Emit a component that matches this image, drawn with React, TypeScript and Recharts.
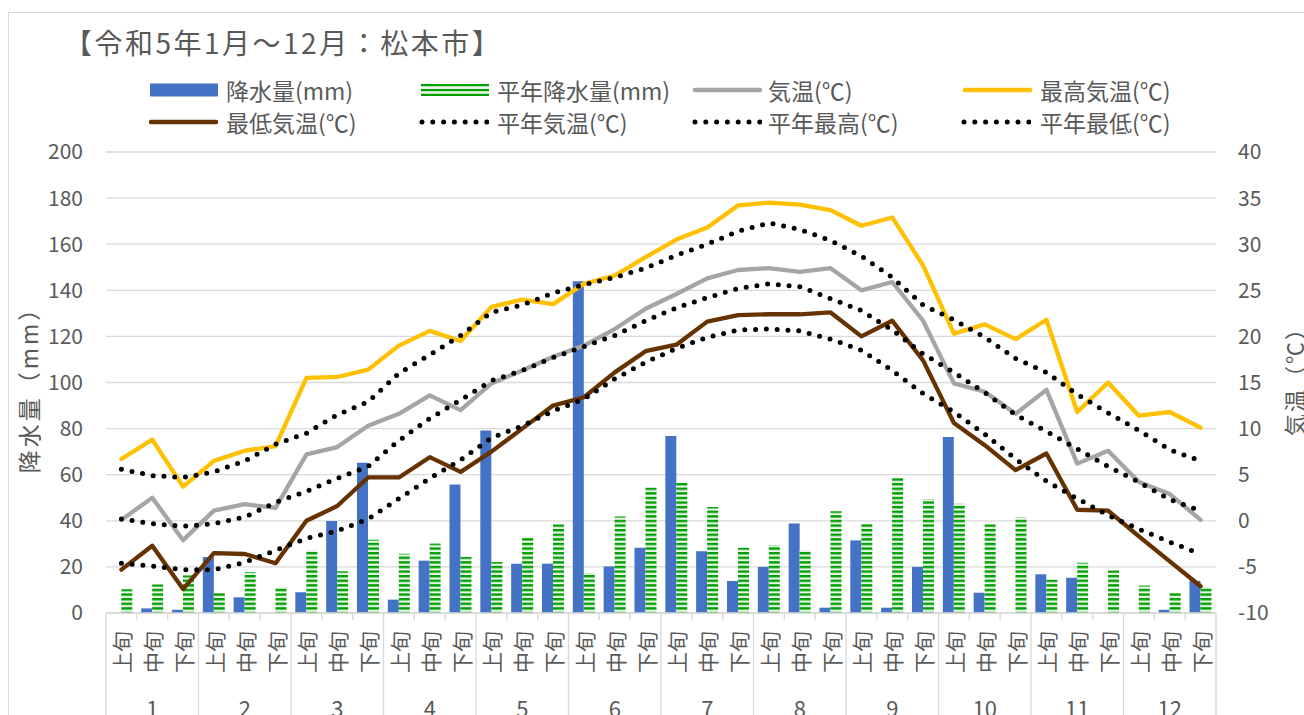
import React from 'react';
import { ComposedChart, Bar, Line, XAxis, YAxis, CartesianGrid } from 'recharts';

// 松本市 令和5年 旬別データ
const months = ['1', '2', '3', '4', '5', '6', '7', '8', '9', '10', '11', '12'];
const dekadNames = ['上旬', '中旬', '下旬'];

const rain = [0, 2, 1.4, 24.3, 6.8, 0, 9, 39.9, 65.2, 5.8, 22.7, 55.8,
  79.2, 21.4, 21.4, 143.9, 20.2, 28.3, 76.8, 26.8, 13.9, 20, 38.8, 2.3,
  31.5, 2.3, 20, 76.4, 8.8, 0, 16.8, 15.3, 0, 0, 1.4, 13.9];
const normalRain = [10.3, 12.4, 16.3, 8.8, 17.8, 11.3, 27.2, 18.1, 31.8, 25.7, 30.1, 24.3,
  22.1, 32.7, 38.5, 17.4, 41.9, 54.4, 56.5, 46, 28.3, 29.4, 27.2, 44.1,
  38.8, 58.7, 49.3, 47.4, 38.5, 41.4, 14.5, 21.8, 18.5, 11.9, 8.8, 11.3];
const temp = [0.1, 2.5, -2.1, 1.1, 1.8, 1.4, 7.2, 8, 10.3, 11.6, 13.6, 12,
  14.9, 16.3, 17.8, 19, 20.8, 23, 24.6, 26.3, 27.2, 27.4, 27, 27.4,
  25, 25.9, 21.7, 14.9, 14, 11.6, 14.2, 6.2, 7.6, 4.2, 2.9, 0.1];
const maxTemp = [6.7, 8.8, 3.7, 6.5, 7.6, 8.1, 15.5, 15.6, 16.4, 19, 20.6, 19.5,
  23.2, 24, 23.5, 25.7, 26.6, 28.6, 30.5, 31.8, 34.2, 34.5, 34.3, 33.7,
  32, 32.9, 27.7, 20.3, 21.3, 19.7, 21.8, 11.8, 15, 11.4, 11.8, 10.1];
const minTemp = [-5.3, -2.7, -7.4, -3.5, -3.6, -4.6, 0, 1.6, 4.7, 4.7, 6.9, 5.3,
  7.5, 10, 12.5, 13.4, 16.1, 18.4, 19.1, 21.6, 22.3, 22.4, 22.4, 22.6,
  20, 21.7, 17.4, 10.6, 8.2, 5.5, 7.3, 1.2, 1.1, -1.7, -4.4, -7.1];
const normalTemp = [0.2, -0.3, -0.6, -0.3, 0.4, 2, 3.2, 4.6, 5.9, 8.7, 11.1, 13.1,
  15.2, 16.3, 17.7, 18.9, 20.1, 21.7, 23.1, 24.2, 25.2, 25.7, 25.4, 24.1,
  22.8, 20.7, 18.1, 16.1, 13.9, 11.5, 9.7, 7.8, 5.9, 4.2, 2.3, 1.1];
const normalMax = [5.6, 4.9, 4.7, 5.3, 6.5, 8.3, 9.5, 11.5, 12.9, 16, 18, 20.1,
  22.6, 23.4, 24.7, 25.6, 26.4, 27.4, 28.8, 30, 31.4, 32.3, 31.6, 30.4,
  28.7, 26.4, 23.4, 21.8, 19.9, 17.6, 16.1, 13.7, 11.7, 9.8, 7.7, 6.5];
const normalMin = [-4.6, -4.9, -5.3, -5.3, -4.5, -3.2, -1.9, -1.1, 0.2, 2.4, 4.6, 6.6,
  9, 10.3, 11.9, 13.2, 15.4, 17.2, 18.7, 19.9, 20.7, 20.8, 20.6, 19.7,
  18.5, 16.3, 13.8, 11.8, 9.4, 6.7, 4.3, 2.4, 0.6, -0.9, -2.3, -3.6];

const rainTicks = [0, 20, 40, 60, 80, 100, 120, 140, 160, 180, 200];
const tempTicks = [-10, -5, 0, 5, 10, 15, 20, 25, 30, 35, 40];

const data = months.flatMap((m, mi) =>
  dekadNames.map((d, di) => {
    const i = mi * 3 + di;
    return {
      key: `${m}-${d}`,
      rain: rain[i],
      normalRain: normalRain[i],
      temp: temp[i],
      maxTemp: maxTemp[i],
      minTemp: minTemp[i],
      normalTemp: normalTemp[i],
      normalMax: normalMax[i],
      normalMin: normalMin[i],
    };
  })
);

const W = 1304;
const H = 715;
const LEFT_W = 106;
const RIGHT_W = 88;
const BAND = (W - LEFT_W - RIGHT_W) / data.length;
const TEXT = '#595959';
const GRID = '#d9d9d9';
const FONT = "'Noto Sans CJK JP', 'Noto Sans', sans-serif";

const DekadTick = (props: any) => {
  const { x, y, payload } = props;
  const [m, d] = String(payload.value).split('-');
  const di = dekadNames.indexOf(d);
  const last = payload.value === data[data.length - 1].key;
  const left = x - BAND / 2;
  return (
    <g>
      <line x1={left} x2={left} y1={y} y2={di === 0 ? y + 110 : y + 7} stroke={GRID} strokeWidth={1.3} />
      {last && <line x1={x + BAND / 2} x2={x + BAND / 2} y1={y} y2={y + 110} stroke={GRID} strokeWidth={1.3} />}
      <text
        transform={`translate(${x},${y + 39}) rotate(-90)`}
        textAnchor="middle"
        dominantBaseline="central"
        fontSize={21}
        fill={TEXT}
        fontFamily={FONT}
      >
        {d}
      </text>
      {di === 1 && (
        <text x={x} y={y + 94} textAnchor="middle" dominantBaseline="central" fontSize={22} fill={TEXT} fontFamily={FONT}>
          {m}
        </text>
      )}
    </g>
  );
};

type LegendItem = { name: string; kind: 'rect' | 'stripe' | 'line' | 'dot'; color: string; sx: number; tx: number; cy: number };

const legendItems: LegendItem[] = [
  { name: '降水量(mm)', kind: 'rect', color: '#4472C4', sx: 150, tx: 226, cy: 90 },
  { name: '平年降水量(mm)', kind: 'stripe', color: '#00A000', sx: 421, tx: 497, cy: 90 },
  { name: '気温(℃)', kind: 'line', color: '#A5A5A5', sx: 692, tx: 768, cy: 90 },
  { name: '最高気温(℃)', kind: 'line', color: '#FFC000', sx: 962, tx: 1040, cy: 90 },
  { name: '最低気温(℃)', kind: 'line', color: '#663300', sx: 148, tx: 226, cy: 122 },
  { name: '平年気温(℃)', kind: 'dot', color: '#000000', sx: 419, tx: 497, cy: 122 },
  { name: '平年最高(℃)', kind: 'dot', color: '#000000', sx: 692, tx: 768, cy: 122 },
  { name: '平年最低(℃)', kind: 'dot', color: '#000000', sx: 961, tx: 1040, cy: 122 },
];

const Swatch = ({ item }: { item: LegendItem }) => {
  const w = 70;
  return (
    <svg width={w} height={16} style={{ position: 'absolute', left: item.sx, top: item.cy - 8 }}>
      {item.kind === 'rect' && <rect x={0} y={1.5} width={68} height={13} fill={item.color} />}
      {item.kind === 'stripe' && (
        <g>
          <rect x={0} y={2} width={68} height={12} fill="#e8f5e8" />
          <rect x={0} y={2} width={68} height={2.2} fill={item.color} />
          <rect x={0} y={7} width={68} height={2.2} fill={item.color} />
          <rect x={0} y={11.8} width={68} height={2.2} fill={item.color} />
        </g>
      )}
      {item.kind === 'line' && (
        <line x1={3} x2={68} y1={8} y2={8} stroke={item.color} strokeWidth={4.5} strokeLinecap="round" />
      )}
      {item.kind === 'dot' && (
        <line x1={3} x2={68} y1={8} y2={8} stroke={item.color} strokeWidth={5} strokeLinecap="round" strokeDasharray="0 10.8" />
      )}
    </svg>
  );
};

const solid = (key: string, color: string) => (
  <Line
    yAxisId="right"
    type="linear"
    dataKey={key}
    stroke={color}
    strokeWidth={4.3}
    strokeLinejoin="round"
    strokeLinecap="round"
    dot={false}
    activeDot={false}
    isAnimationActive={false}
  />
);

const dotted = (key: string) => (
  <Line
    yAxisId="right"
    type="linear"
    dataKey={key}
    stroke="#000000"
    strokeWidth={5}
    strokeLinecap="round"
    strokeDasharray="0 10.8"
    dot={false}
    activeDot={false}
    isAnimationActive={false}
  />
);

export default function App() {
  return (
    <div style={{ position: 'fixed', left: 0, top: 0, width: W, height: H, overflow: 'hidden', background: '#fff', fontFamily: FONT }}>
      <div style={{ position: 'absolute', left: 8, top: 12, width: 1400, height: 900, border: `1px solid ${GRID}` }} />
      <div style={{ position: 'absolute', left: 64, top: 22, fontSize: 28, letterSpacing: 2.5, lineHeight: '40px', color: TEXT, whiteSpace: 'nowrap' }}>
        【令和5年1月～12月：松本市】
      </div>
      {legendItems.map((item) => (
        <React.Fragment key={item.name}>
          <Swatch item={item} />
          <div style={{ position: 'absolute', left: item.tx, top: item.cy - 16, height: 32, lineHeight: '32px', fontSize: 23, color: TEXT, whiteSpace: 'nowrap' }}>
            {item.name}
          </div>
        </React.Fragment>
      ))}
      <div style={{ position: 'absolute', left: 28, top: 384, width: 0, height: 0 }}>
        <div style={{ position: 'absolute', transform: 'translate(-50%, -50%) rotate(-90deg)', fontSize: 23, letterSpacing: 3, color: TEXT, whiteSpace: 'nowrap' }}>
          降水量（mm）
        </div>
      </div>
      <div style={{ position: 'absolute', left: 1293, top: 376, width: 0, height: 0 }}>
        <div style={{ position: 'absolute', transform: 'translate(-50%, -50%) rotate(-90deg)', fontSize: 22, letterSpacing: 2, color: TEXT, whiteSpace: 'nowrap' }}>
          気温（℃）
        </div>
      </div>
      <div style={{ position: 'absolute', left: 0, top: 0 }}>
        <ComposedChart
          width={W}
          height={H}
          data={data}
          margin={{ top: 152, right: 0, bottom: 0, left: 0 }}
          barCategoryGap="14%"
          barGap={0}
        >
          <defs>
            <pattern id="hstripe" patternUnits="userSpaceOnUse" width={8} height={4.6}>
              <rect width={8} height={4.6} fill="#e8f5e8" />
              <rect width={8} height={2.4} fill="#00A000" />
            </pattern>
          </defs>
          <CartesianGrid yAxisId="left" vertical={false} stroke={GRID} strokeWidth={1.3} />
          <XAxis
            dataKey="key"
            height={102}
            interval={0}
            tickSize={0}
            tickMargin={0}
            tickLine={false}
            axisLine={{ stroke: GRID, strokeWidth: 1.3 }}
            tick={<DekadTick />}
          />
          <YAxis
            yAxisId="left"
            orientation="left"
            width={LEFT_W}
            domain={[0, 200]}
            ticks={rainTicks}
            axisLine={false}
            tickLine={false}
            tickSize={0}
            tickMargin={23}
            tick={{ fill: TEXT, fontSize: 21, fontFamily: FONT }}
          />
          <YAxis
            yAxisId="right"
            orientation="right"
            width={RIGHT_W}
            domain={[-10, 40]}
            ticks={tempTicks}
            axisLine={false}
            tickLine={false}
            tickSize={0}
            tickMargin={22}
            tick={{ fill: TEXT, fontSize: 21, fontFamily: FONT, textAnchor: 'start' }}
          />
          <Bar yAxisId="left" dataKey="rain" fill="#4472C4" isAnimationActive={false} />
          <Bar yAxisId="left" dataKey="normalRain" fill="url(#hstripe)" isAnimationActive={false} />
          {solid('temp', '#A5A5A5')}
          {solid('maxTemp', '#FFC000')}
          {solid('minTemp', '#663300')}
          {dotted('normalTemp')}
          {dotted('normalMax')}
          {dotted('normalMin')}
        </ComposedChart>
      </div>
    </div>
  );
}
